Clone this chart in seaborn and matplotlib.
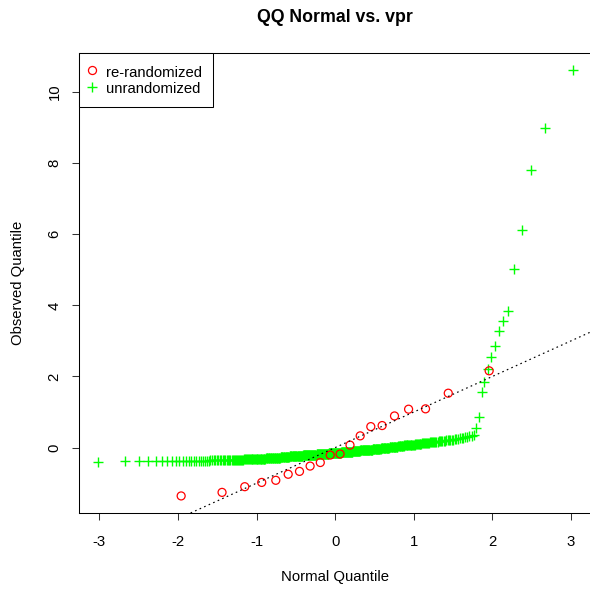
#!/usr/bin/env python3

import matplotlib
matplotlib.use('Agg')
import matplotlib.pyplot as plt
from matplotlib.lines import Line2D
import seaborn as sns
import pandas as pd
from statistics import NormalDist

rerandomized = [
    -1.36, -1.26, -1.10, -0.98, -0.92, -0.75, -0.67, -0.52, -0.42, -0.21,
    -0.18, 0.07, 0.33, 0.59, 0.62, 0.89, 1.08, 1.09, 1.53, 2.16,
]

unrandomized = [
    -0.40, -0.39, -0.39, -0.39, -0.39,
    -0.38, -0.38, -0.38, -0.38, -0.38, -0.38, -0.38, -0.38, -0.38, -0.38,
    -0.37, -0.37, -0.37, -0.37, -0.37, -0.37, -0.37,
    -0.36, -0.36, -0.36, -0.36, -0.36, -0.36, -0.36, -0.36, -0.36,
    -0.35, -0.35, -0.35, -0.35, -0.35, -0.35, -0.35, -0.35, -0.35,
    -0.34, -0.34, -0.34, -0.34, -0.34, -0.34, -0.34, -0.34, -0.34,
    -0.33, -0.33, -0.33, -0.33, -0.33, -0.33, -0.33, -0.33, -0.33,
    -0.32, -0.32, -0.32, -0.32, -0.32, -0.32, -0.32, -0.32, -0.32,
    -0.31, -0.31, -0.31, -0.31, -0.31, -0.31, -0.31, -0.31,
    -0.30, -0.30, -0.30, -0.30, -0.30, -0.30, -0.30,
    -0.29, -0.29, -0.29, -0.29, -0.29, -0.29, -0.29, -0.29,
    -0.28, -0.28, -0.28, -0.28, -0.28, -0.28, -0.28,
    -0.27, -0.27, -0.27, -0.27, -0.27, -0.27, -0.27, -0.27,
    -0.26, -0.26, -0.26, -0.26, -0.26, -0.26, -0.26,
    -0.25, -0.25, -0.25, -0.25, -0.25, -0.25, -0.25, -0.25,
    -0.24, -0.24, -0.24, -0.24, -0.24, -0.24, -0.24, -0.24,
    -0.23, -0.23, -0.23, -0.23, -0.23, -0.23, -0.23, -0.23,
    -0.22, -0.22, -0.22, -0.22, -0.22, -0.22, -0.22, -0.22, -0.22,
    -0.21, -0.21, -0.21, -0.21, -0.21, -0.21, -0.21, -0.21,
    -0.20, -0.20, -0.20, -0.20, -0.20, -0.20, -0.20, -0.20, -0.20,
    -0.19, -0.19, -0.19, -0.19, -0.19, -0.19, -0.19, -0.19,
    -0.18, -0.18, -0.18, -0.18, -0.18, -0.18, -0.18, -0.18, -0.18,
    -0.17, -0.17, -0.17, -0.17, -0.17, -0.17, -0.17, -0.17,
    -0.16, -0.16, -0.16, -0.16, -0.16, -0.16, -0.16, -0.16, -0.16,
    -0.15, -0.15, -0.15, -0.15, -0.15, -0.15, -0.15, -0.15,
    -0.14, -0.14, -0.14, -0.14, -0.14, -0.14, -0.14, -0.14,
    -0.13, -0.13, -0.13, -0.13, -0.13, -0.13, -0.13, -0.13,
    -0.12, -0.12, -0.12, -0.12, -0.12, -0.12, -0.12,
    -0.11, -0.11, -0.11, -0.11, -0.11, -0.11, -0.11, -0.11,
    -0.10, -0.10, -0.10, -0.10, -0.10, -0.10, -0.10, -0.10,
    -0.09, -0.09, -0.09, -0.09, -0.09, -0.09, -0.09,
    -0.08, -0.08, -0.08, -0.08, -0.08, -0.08, -0.08, -0.08,
    -0.07, -0.07, -0.07, -0.07, -0.07, -0.07, -0.07, -0.07,
    -0.06, -0.06, -0.06, -0.06, -0.06, -0.06, -0.06,
    -0.05, -0.05, -0.05, -0.05, -0.05, -0.05,
    -0.04, -0.04, -0.04, -0.04, -0.04,
    -0.03, -0.03, -0.03, -0.03,
    -0.02, -0.02, -0.02, -0.02, -0.02,
    -0.01, -0.01, -0.01, -0.01,
    0.00, 0.00, 0.00, 0.00, 0.00,
    0.01, 0.01, 0.01, 0.01,
    0.02, 0.02, 0.02, 0.02, 0.02,
    0.03, 0.03, 0.03, 0.03,
    0.04, 0.04, 0.04, 0.04, 0.04,
    0.05, 0.05, 0.05, 0.05,
    0.06, 0.06, 0.06, 0.06, 0.06,
    0.07, 0.07, 0.07, 0.07, 0.07,
    0.08, 0.08, 0.08, 0.08,
    0.09, 0.09, 0.09, 0.10, 0.10, 0.10, 0.11, 0.11,
    0.12, 0.12, 0.12, 0.13, 0.13, 0.13, 0.14, 0.14,
    0.15, 0.15, 0.15, 0.16, 0.16, 0.16, 0.17, 0.17,
    0.18, 0.18, 0.18, 0.19, 0.19, 0.19, 0.20, 0.20,
    0.21, 0.21, 0.21, 0.22,
    0.23, 0.24, 0.25, 0.26, 0.27, 0.28, 0.30, 0.31, 0.32, 0.34,
    0.36, 0.55, 0.86, 1.55, 1.85, 2.21, 2.56, 2.85, 3.27, 3.57,
    3.85, 5.01, 6.11, 7.80, 8.98, 10.62,
]

series_labels = ['re-randomized', 'unrandomized']
x_ticks = [-3, -2, -1, 0, 1, 2, 3]
y_ticks = [0, 2, 4, 6, 8, 10]

RED = '#FF0000'
GREEN = '#00FF00'
FS = 10.7


def normal_quantiles(values):
    # same plotting positions as R's qqnorm (ppoints)
    n = len(values)
    a = 3 / 8 if n <= 10 else 0.5
    nd = NormalDist()
    return [nd.inv_cdf((i + 1 - a) / (n + 1 - 2 * a)) for i in range(n)]


def qq_frame(values, label):
    vals = sorted(values)
    return pd.DataFrame({'theoretical': normal_quantiles(vals),
                         'observed': vals,
                         'group': label})


plt.rcParams['font.family'] = ['Liberation Sans', 'DejaVu Sans']
plt.rcParams['font.size'] = FS

df_r = qq_frame(rerandomized, series_labels[0])
df_u = qq_frame(unrandomized, series_labels[1])

fig = plt.figure(figsize=(5.90, 5.89), dpi=100)
ax = fig.add_axes([79 / 590, 76 / 589, 512.3 / 590, 460 / 589])

sns.scatterplot(data=df_u, x='theoretical', y='observed', ax=ax,
                marker='+', color=GREEN, s=52, linewidth=1.0, legend=False)
sns.scatterplot(data=df_r, x='theoretical', y='observed', ax=ax,
                marker='o', facecolor='none', edgecolor=RED, s=33,
                linewidth=0.9, legend=False)
ax.axline((0, 0), slope=1, color='black', linewidth=0.85,
          linestyle=(0, (1.4, 2.8)))

ax.set_xlim(-3.26, 3.26)
ax.set_ylim(-1.84, 11.10)
ax.set_xticks(x_ticks)
ax.set_yticks(y_ticks)
ax.set_xticklabels([str(t) for t in x_ticks])
ax.set_yticklabels([str(t) for t in y_ticks], rotation=90, va='center')

for s in ax.spines.values():
    s.set_linewidth(0.75)
    s.set_color('black')
ax.tick_params(axis='both', direction='out', length=5, width=0.75,
               color='#333333', labelsize=FS)
ax.tick_params(axis='x', pad=11.0)
ax.tick_params(axis='y', pad=7.6)

ax.set_xlabel('Normal Quantile', fontsize=FS)
ax.set_ylabel('Observed Quantile', fontsize=FS)
ax.xaxis.set_label_coords(0.5, (513 - 577) / 460)
ax.xaxis.label.set_va('center')
ax.yaxis.set_label_coords((18 - 79) / 512.3, 0.5)
ax.yaxis.label.set_va('center')
ax.set_title('QQ Normal vs. vpr', fontsize=12.8, fontweight='bold',
             y=(513 - 17) / 460, va='center', pad=0)

handles = [
    Line2D([], [], linestyle='none', marker='o', markersize=5.8,
           markerfacecolor='none', markeredgecolor=RED, markeredgewidth=0.9),
    Line2D([], [], linestyle='none', marker='+', markersize=7.2,
           markeredgecolor=GREEN, markeredgewidth=1.0),
]
leg = ax.legend(handles, series_labels, loc='upper left',
                bbox_to_anchor=(0, 1), borderaxespad=0, fancybox=False,
                edgecolor='black', framealpha=1, fontsize=FS,
                borderpad=0.75, handlelength=0.24, handletextpad=0.82,
                handleheight=1.2, labelspacing=0.05, numpoints=1)
leg.get_frame().set_linewidth(0.75)

fig.savefig('out.png', dpi=100)
plt.close()
